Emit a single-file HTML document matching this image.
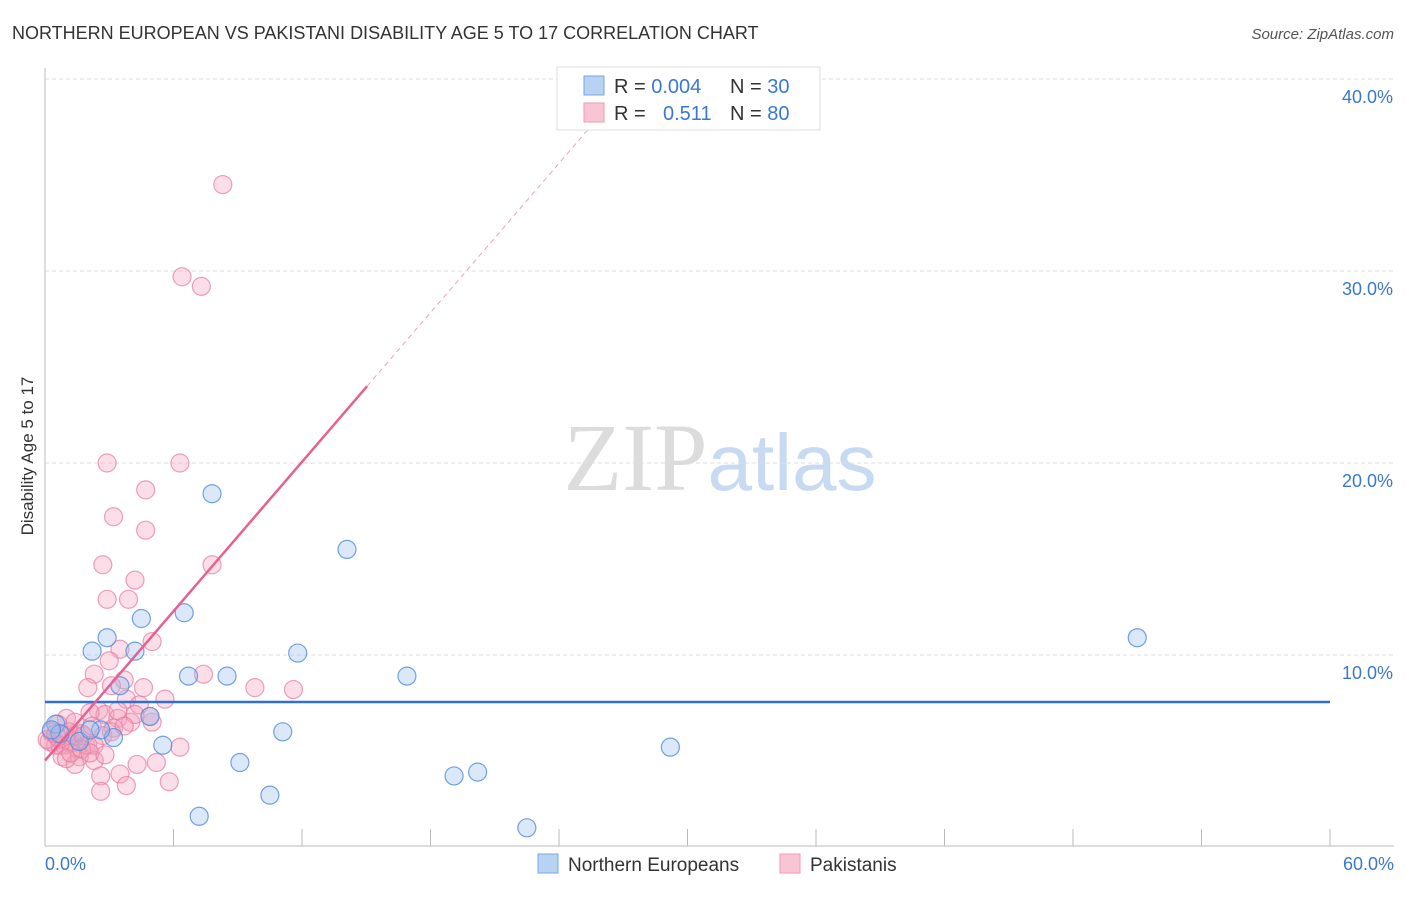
<!DOCTYPE html>
<html><head><meta charset="utf-8"><style>
body{margin:0;background:#fff;font-family:"Liberation Sans",sans-serif;}
svg text{font-family:"Liberation Sans",sans-serif;}
</style></head><body>
<svg id="chart" width="1406" height="892" xmlns="http://www.w3.org/2000/svg">
<text x="12" y="39" font-size="18" fill="#333">NORTHERN EUROPEAN VS PAKISTANI DISABILITY AGE 5 TO 17 CORRELATION CHART</text>
<text x="1394" y="39" font-size="15" fill="#555" text-anchor="end" font-style="italic">Source: ZipAtlas.com</text>
<text x="720" y="490" font-size="96" text-anchor="middle"><tspan fill="#dcdcdc" font-family="Liberation Serif">ZIP</tspan><tspan fill="#c8daf2" font-size="80">atlas</tspan></text>
<g id="grid"></g><g id="axes"></g><g id="pink"></g><g id="blue"></g><g id="lines"></g>
<text transform="translate(33,456) rotate(-90)" font-size="17" fill="#333" text-anchor="middle">Disability Age 5 to 17</text>
<g>
<rect x="557" y="67" width="263" height="63" fill="#fff" stroke="#ddd"/>
<rect x="584" y="76" width="20" height="19" fill="#b8d2f4" stroke="#7aa6e2"/>
<rect x="584" y="103" width="20" height="19" fill="#f9c5d4" stroke="#ee9ab5"/>
<text x="614" y="93" font-size="20" fill="#333">R = <tspan fill="#3a78d4">0.004</tspan><tspan x="730">N = </tspan><tspan fill="#3a78d4">30</tspan></text>
<text x="614" y="120" font-size="20" fill="#333">R = <tspan x="663" fill="#3a78d4">0.511</tspan><tspan x="730">N = </tspan><tspan fill="#3a78d4">80</tspan></text>
</g>
<g>
<rect x="538" y="854" width="20" height="19" fill="#b8d2f4" stroke="#7aa6e2"/>
<text x="568" y="871" font-size="19" fill="#333">Northern Europeans</text>
<rect x="780" y="854" width="20" height="19" fill="#f9c5d4" stroke="#ee9ab5"/>
<text x="810" y="871" font-size="19" fill="#333">Pakistanis</text>
</g>
</svg>
<script>
const xTicks=[0,6,12,18,24,30,36,42,48,54,60];
const yTicks=[10,20,30,40];
const blueX=[2.9,4.5,6.5,7.8,14.1,2.2,4.2,6.7,3.5,8.5,11.8,16.9,51.0,4.9,5.5,3.2,2.6,11.1,9.1,10.5,7.2,19.1,20.2,22.5,29.2,0.5,0.7,1.6,2.1,0.3];
const blueY=[10.9,11.9,12.2,18.4,15.5,10.2,10.2,8.9,8.4,8.9,10.1,8.9,10.9,6.8,5.3,5.7,6.1,6.0,4.4,2.7,1.6,3.7,3.9,1.0,5.2,6.4,5.9,5.5,6.1,6.1];
const pinkX=[8.3,6.4,7.3,2.9,6.3,4.7,3.2,4.7,2.7,7.8,4.2,2.9,3.9,5.0,3.5,3.0,2.3,3.7,7.4,2.0,4.6,3.1,9.8,11.6,5.6,3.8,4.4,2.5,2.8,2.1,3.4,4.0,5.0,3.2,1.0,1.4,0.6,1.7,0.8,1.3,0.2,0.5,0.7,0.9,1.2,1.5,1.9,0.1,0.3,0.6,1.6,0.8,1.4,2.3,3.5,2.6,4.3,5.2,6.3,5.8,3.8,2.6,1.0,2.0,0.5,1.1,1.4,1.8,2.2,2.7,3.1,4.9,4.2,3.4,3.7,2.3,1.2,1.7,2.1,2.8];
const pinkY=[34.5,29.7,29.2,20.0,20.0,18.6,17.2,16.5,14.7,14.7,13.9,12.9,12.9,10.7,10.3,9.7,9.0,8.7,9.0,8.3,8.3,8.4,8.3,8.2,7.7,7.7,7.4,7.1,6.9,7.0,6.7,6.5,6.5,6.2,6.7,6.5,6.4,5.9,5.8,5.5,5.5,5.3,5.3,5.3,5.4,5.1,5.3,5.6,6.0,5.7,4.7,4.7,4.3,4.5,3.8,3.7,4.3,4.4,5.2,3.4,3.2,2.9,4.6,5.3,5.9,6.0,5.8,5.8,6.3,5.8,6.0,6.8,6.9,7.1,6.3,5.3,4.9,5.1,4.9,4.8];
const NS='http://www.w3.org/2000/svg';
const X=v=>45+v/60*1285, Y=v=>847-v/10*192;
function mk(t,a,p){const e=document.createElementNS(NS,t);for(const k in a)e.setAttribute(k,a[k]);document.getElementById(p).appendChild(e);return e;}
yTicks.forEach(t=>{
 const g=mk('line',{x1:45,x2:1394,y1:Y(t),y2:Y(t),stroke:'#ddd','stroke-dasharray':'4,3'},'grid');
 
 
 const l=mk('text',{x:1393,y:Y(t)+24,'font-size':18,fill:'#3a78d4','text-anchor':'end'},'axes');l.textContent=t.toFixed(1)+'%';
 
 
});
mk('line',{x1:45,x2:45,y1:68,y2:846,stroke:'#bbb'},'axes');
mk('line',{x1:45,x2:1394,y1:846,y2:846,stroke:'#bbb'},'axes');
xTicks.forEach(t=>{const e=mk('line',{x1:X(t),x2:X(t),y1:829,y2:846,stroke:'#bbb'},'axes');
 
 });
[[0,'start'],[60,'end']].forEach(([t,a])=>{const l=mk('text',{x:t?1394:45,y:870,'font-size':18,fill:'#3a78d4','text-anchor':a},'axes');l.textContent=t.toFixed(1)+'%';
 
 });
pinkX.forEach((x,i)=>{const c=mk('circle',{cx:X(x),cy:Y(pinkY[i]),r:9,fill:'rgba(244,160,186,0.35)',stroke:'rgba(232,120,160,0.7)','stroke-width':1.2},'pink');
 
 });
blueX.forEach((x,i)=>{const c=mk('circle',{cx:X(x),cy:Y(blueY[i]),r:9,fill:'rgba(150,190,240,0.35)',stroke:'rgba(80,140,220,0.8)','stroke-width':1.2},'blue');
 
 });
const b=mk('line',{x1:X(0),x2:X(60),y1:Y(7.55),y2:Y(7.55),stroke:'#2f6fd0','stroke-width':2.5},'lines');


const p=mk('line',{x1:X(0),x2:X(15.04),y1:Y(4.5),y2:Y(24.0),stroke:'#e8608f','stroke-width':2.5},'lines');


const pd=mk('line',{x1:X(15.04),x2:X(26),y1:Y(24.0),y2:Y(38.2),stroke:'#f0a0b8','stroke-width':1,'stroke-dasharray':'5,4'},'lines');


</script>
</body></html>
